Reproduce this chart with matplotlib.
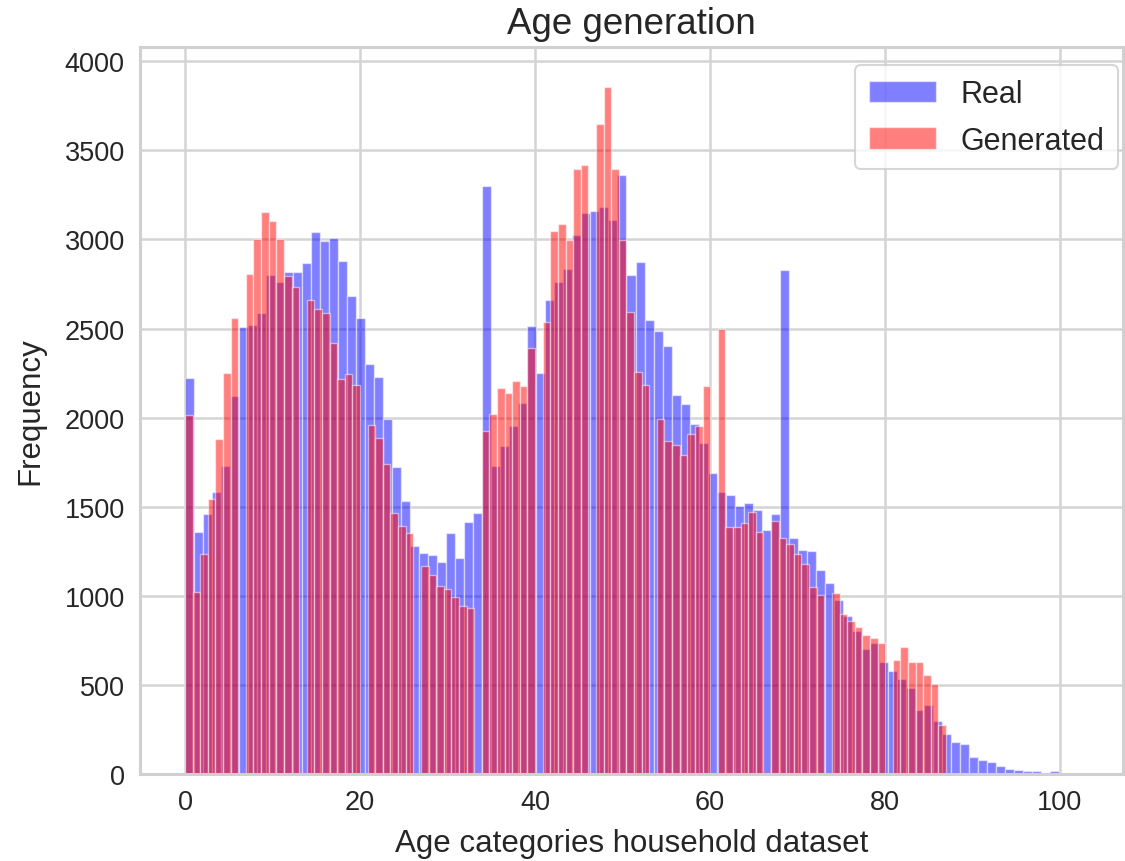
import numpy as np
import matplotlib
matplotlib.use("Agg")
import matplotlib.pyplot as plt
import seaborn as sns

# ---- data (bin counts; 100 equal bins per series) ----
real_range = (0, 103)
gen_range = (0, 87)
n_bins = 100

real_counts = [
    2222, 1359, 1459, 1580, 1729, 2122, 2511, 2522, 2587, 2800,
    2760, 2820, 2818, 2870, 3041, 2991, 3009, 2880, 2685, 2559,
    2300, 2228, 1990, 1722, 1535, 1280, 1240, 1228, 1190, 1353,
    1213, 1414, 1465, 3302, 1726, 1842, 1953, 2080, 2512, 2252,
    2661, 2764, 2835, 3025, 3146, 3160, 3183, 3110, 3360, 2800,
    2875, 2548, 2487, 2400, 2129, 2078, 1965, 1855, 1691, 1580,
    1567, 1506, 1519, 1481, 1370, 1459, 2830, 1326, 1259, 1250,
    1145, 1072, 978, 887, 800, 701, 735, 628, 580, 531,
    480, 361, 385, 299, 226, 179, 166, 93, 80, 66,
    44, 31, 20, 15, 15, 6, 15, 3, 2, 1,
]

gen_counts = [
    2014, 1019, 1233, 1545, 1878, 2250, 2559, 0, 2808, 3004,
    3153, 3102, 3004, 2795, 2735, 0, 2663, 2611, 2587, 2417,
    2217, 2244, 2185, 0, 1959, 1885, 1740, 1466, 1390, 1355,
    0, 1166, 1116, 1056, 1041, 994, 944, 929, 0, 1927,
    2020, 2165, 2140, 2205, 2177, 2390, 0, 2537, 3047, 3085,
    2997, 3398, 3420, 0, 3650, 3855, 3394, 2996, 2591, 2254,
    2181, 0, 1994, 1868, 1845, 1793, 1909, 1951, 2179, 0,
    2497, 1385, 1385, 1407, 1472, 1361, 0, 1422, 1324, 1289,
    1237, 1178, 1052, 1005, 0, 1018, 896, 859, 823, 783,
    763, 737, 0, 640, 714, 626, 626, 555, 507, 276,
]

series_labels = ["Real", "Generated"]
title = "Age generation"
xlabel = "Age categories household dataset"
ylabel = "Frequency"

# ---- style ----
sns.set_style("whitegrid")
plt.rcParams["font.family"] = ["Liberation Sans", "DejaVu Sans"]

fig = plt.figure(figsize=(11.25, 8.62), dpi=100)
ax = fig.add_axes([0.1244, 0.1009, 0.8736, 0.8434])

real_edges = np.linspace(real_range[0], real_range[1], n_bins + 1)
gen_edges = np.linspace(gen_range[0], gen_range[1], n_bins + 1)

ax.bar(real_edges[:-1], real_counts, width=np.diff(real_edges), align="edge",
       color="blue", alpha=0.5, edgecolor="white", linewidth=1.0,
       label=series_labels[0])
ax.bar(gen_edges[:-1], gen_counts, width=np.diff(gen_edges), align="edge",
       color="red", alpha=0.5, edgecolor="white", linewidth=1.0,
       label=series_labels[1])

ax.set_xlim(-5.15, 107.2)
ax.set_ylim(0, 4080)
ax.set_xticks(np.arange(0, 101, 20))
ax.set_yticks(np.arange(0, 4001, 500))

ax.grid(True, color="#d4d4d4", linewidth=1.8)
ax.set_axisbelow(True)
for sp in ax.spines.values():
    sp.set_color("#d0d0d0")
    sp.set_linewidth(2.2)

ax.tick_params(axis="both", labelsize=19.5, colors="#262626", length=0, pad=11)
ax.set_xlabel(xlabel, fontsize=22.5, color="#262626", labelpad=9)
ax.set_ylabel(ylabel, fontsize=22.5, color="#262626", labelpad=14)
ax.set_title(title, fontsize=26.5, color="#262626", pad=10)

leg = ax.legend(loc="upper right", bbox_to_anchor=(0.995, 0.975),
                borderaxespad=0.0, fontsize=22, frameon=True,
                handlelength=2.2, borderpad=0.45, labelspacing=0.55,
                handletextpad=0.8)
leg.get_frame().set_edgecolor("#cccccc")
leg.get_frame().set_linewidth(1.5)

fig.savefig("out.png", dpi=100)
